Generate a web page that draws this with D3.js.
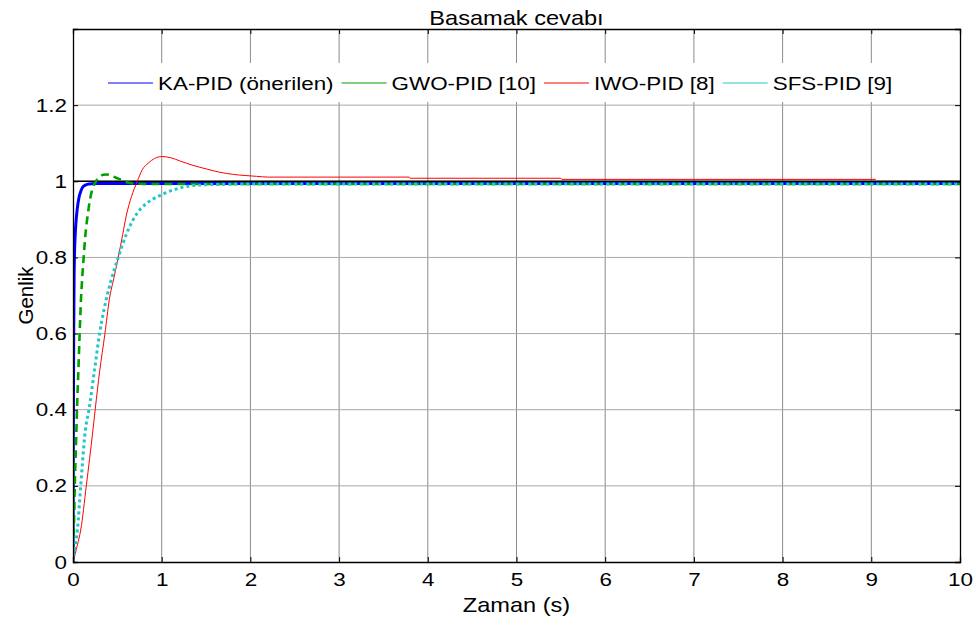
<!DOCTYPE html>
<html lang="tr">
<head>
<meta charset="utf-8">
<title>Basamak cevabı</title>
<style>
  html, body { margin: 0; background: #fff; }
  svg { display: block; font-family: "Liberation Sans", Arial, sans-serif; }
</style>
</head>
<body>
<script src="https://cdn.jsdelivr.net/npm/d3@7/dist/d3.min.js"></script>
<script>
// step responses (t in s, amplitude)
const kaT = [0, 0.004, 0.008, 0.012, 0.016, 0.025, 0.04, 0.055, 0.07, 0.09, 0.11, 0.14, 0.18, 0.25, 10]
const kaY = [0, 0.35, 0.6, 0.74, 0.8, 0.86, 0.91, 0.94, 0.96, 0.975, 0.985, 0.99, 0.993, 0.994, 0.994]

const gwoT = [0, 0.01, 0.02, 0.035, 0.045, 0.06, 0.075, 0.09, 0.105, 0.12, 0.14, 0.165, 0.19, 0.22, 0.26, 0.3, 0.34, 0.38, 0.42, 0.48, 0.55, 0.62, 0.7, 0.8, 10]
const gwoY = [0, 0.09, 0.2, 0.32, 0.4, 0.5, 0.6, 0.69, 0.75, 0.8, 0.86, 0.91, 0.95, 0.98, 1.0, 1.011, 1.017, 1.018, 1.016, 1.01, 1.003, 0.997, 0.994, 0.993, 0.993]

const iwoT = [0, 0.05, 0.087, 0.15, 0.225, 0.25, 0.3, 0.36, 0.41, 0.46, 0.51, 0.56, 0.6, 0.66, 0.725, 0.78, 0.85, 0.92, 1.0, 1.1, 1.21, 1.35, 1.51, 1.65, 1.81, 1.95, 2.07, 2.2, 3.79, 3.8, 5.5, 5.51, 9.05]
const iwoY = [0, 0.045, 0.084, 0.2, 0.347, 0.4, 0.5, 0.6, 0.69, 0.745, 0.8, 0.86, 0.909, 0.96, 1.0, 1.03, 1.048, 1.06, 1.065, 1.062, 1.053, 1.042, 1.032, 1.024, 1.018, 1.015, 1.013, 1.011, 1.011, 1.008, 1.008, 1.005, 1.005]

const sfsT = [0, 0.02, 0.05, 0.087, 0.14, 0.18, 0.24, 0.3, 0.35, 0.375, 0.43, 0.51, 0.6, 0.68, 0.84, 0.9, 1.0, 1.09, 1.2, 1.32, 1.5, 1.69, 2.0, 10]
const sfsY = [0, 0.035, 0.084, 0.2, 0.347, 0.4, 0.5, 0.6, 0.663, 0.69, 0.74, 0.8, 0.86, 0.9, 0.944, 0.953, 0.965, 0.974, 0.982, 0.988, 0.991, 0.992, 0.993, 0.993]

const refT = [0, 10]
const refY = [1, 1]

const legendLabels = ['KA-PID (önerilen)', 'GWO-PID [10]', 'IWO-PID [8]', 'SFS-PID [9]']
const xTicks = [0, 1, 2, 3, 4, 5, 6, 7, 8, 9, 10]
const yTicks = [0, 0.2, 0.4, 0.6, 0.8, 1, 1.2]
const yTickLabels = ['0', '0.2', '0.4', '0.6', '0.8', '1', '1.2']

const W = 976, H = 628
const pLeft = 73, pRight = 960, pTop = 29, pBottom = 562
const fs = 19, sx = 1.18

const svg = d3.select('body').append('svg')
  .attr('width', W).attr('height', H)

const x = d3.scaleLinear().domain([0, 10]).range([pLeft, pRight])
const y = d3.scaleLinear().domain([0, 1.4]).range([pBottom, pTop])

// grid
svg.append('g').selectAll('line')
  .data(xTicks.slice(1, -1))
  .join('line')
  .attr('x1', d => x(d)).attr('x2', d => x(d))
  .attr('y1', pTop).attr('y2', pBottom)
  .attr('stroke', '#8a8a8a').attr('stroke-width', 1)
svg.append('g').selectAll('line')
  .data(yTicks.slice(1))
  .join('line')
  .attr('x1', pLeft).attr('x2', pRight)
  .attr('y1', d => y(d)).attr('y2', d => y(d))
  .attr('stroke', '#a8a8a8').attr('stroke-width', 1)

// legend box hides the grid behind it, no border
const legendTop = 63, legendBottom = 102
svg.append('rect')
  .attr('x', 100).attr('y', legendTop)
  .attr('width', 806).attr('height', legendBottom - legendTop)
  .attr('fill', '#fff')

svg.append('clipPath').attr('id', 'clip')
  .append('rect').attr('x', pLeft).attr('y', pTop)
  .attr('width', pRight - pLeft).attr('height', pBottom - pTop)

const series = [
  { t: kaT, v: kaY, color: '#0000ff', width: 3, dash: null },
  { t: gwoT, v: gwoY, color: '#00a000', width: 2.6, dash: '8,5' },
  { t: iwoT, v: iwoY, color: '#ff0000', width: 1, dash: null },
  { t: sfsT, v: sfsY, color: '#20c8c8', width: 3, dash: '3,3' }
]

const line = d3.line()
  .x(d => x(d[0])).y(d => y(d[1]))
  .curve(d3.curveMonotoneX)

const plot = svg.append('g').attr('clip-path', 'url(#clip)')

plot.append('path')
  .attr('d', line(d3.zip(refT, refY)))
  .attr('fill', 'none').attr('stroke', '#000').attr('stroke-width', 1.5)

plot.selectAll('path.s')
  .data(series)
  .join('path')
  .attr('class', 's')
  .attr('d', s => line(d3.zip(s.t, s.v)))
  .attr('fill', 'none')
  .attr('stroke', s => s.color)
  .attr('stroke-width', s => s.width)
  .attr('stroke-dasharray', s => s.dash)

// axes, ticks pointing inward like matlab
const xAxis = svg.append('g')
  .attr('transform', `translate(0,${pBottom})`)
  .call(d3.axisBottom(x).tickValues(xTicks).tickSize(-5).tickPadding(11).tickFormat(d3.format('d')))
svg.append('g')
  .attr('transform', `translate(0,${pTop})`)
  .call(d3.axisTop(x).tickValues(xTicks).tickSize(-5).tickFormat(''))
const yAxis = svg.append('g')
  .attr('transform', `translate(${pLeft},0)`)
  .call(d3.axisLeft(y).tickValues(yTicks).tickSize(-5).tickPadding(6)
    .tickFormat((d, i) => yTickLabels[i]))
svg.append('g')
  .attr('transform', `translate(${pRight},0)`)
  .call(d3.axisRight(y).tickValues(yTicks).tickSize(-5).tickFormat(''))

svg.selectAll('.domain').attr('stroke', '#000').attr('stroke-width', 1.3)
svg.selectAll('.tick line').attr('stroke', '#000')
svg.selectAll('.tick text')
  .attr('font-size', fs).attr('font-family', '"Liberation Sans", Arial, sans-serif')
  .attr('fill', '#000')
xAxis.selectAll('.tick text').attr('transform', `scale(${sx},1)`)
yAxis.selectAll('.tick text').attr('transform', `scale(${sx},1)`).attr('x', -6 / sx)

// labels
const label = (txt, tx, ty, rot, size) => svg.append('text')
  .attr('transform', `translate(${tx},${ty}) rotate(${rot}) scale(${rot ? 1 : sx},1)`)
  .attr('text-anchor', 'middle')
  .attr('font-size', size)
  .text(txt)

label('Basamak cevabı', (pLeft + pRight) / 2, 25, 0, 20)
label('Zaman (s)', (pLeft + pRight) / 2, 612, 0, 20)
label('Genlik', 33, (pTop + pBottom) / 2, -90, 20.5)

// legend
const legendY = 83
let lx = 108
legendLabels.forEach((name, i) => {
  const s = series[i]
  svg.append('line')
    .attr('x1', lx).attr('x2', lx + 45)
    .attr('y1', legendY).attr('y2', legendY)
    .attr('stroke', s.color).attr('stroke-width', 1)
  const t = svg.append('text')
    .attr('transform', `translate(${lx + 50},${legendY + 6.5}) scale(${sx},1)`)
    .attr('font-size', fs)
    .text(name)
  lx += 50 + t.node().getComputedTextLength() * sx + 8
})
</script>
</body>
</html>
